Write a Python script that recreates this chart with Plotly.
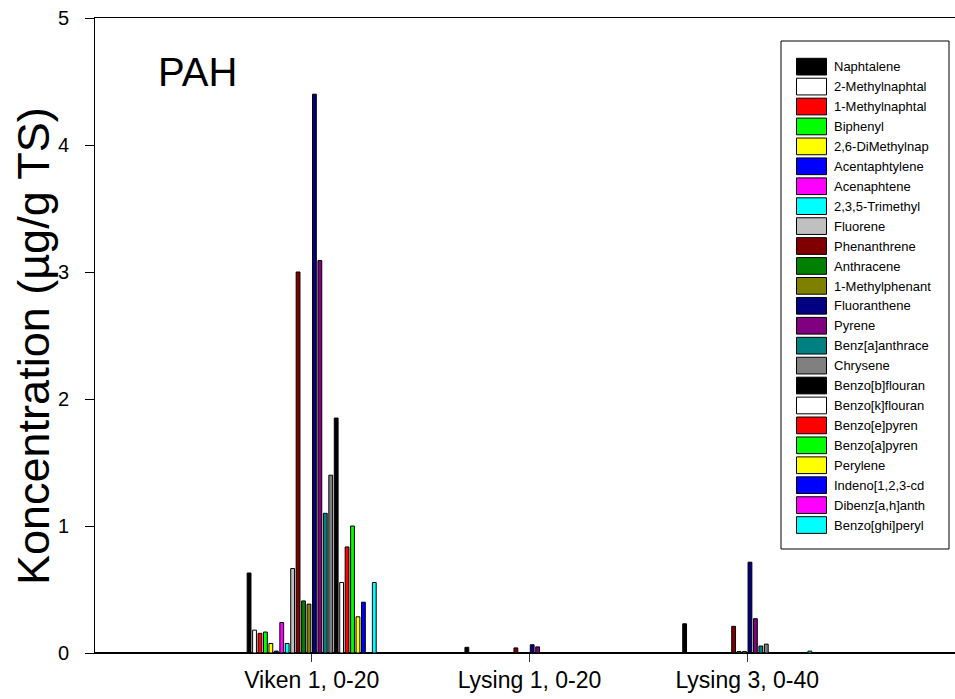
import plotly.graph_objects as go

categories = ["Viken 1, 0-20", "Lysing 1, 0-20", "Lysing 3, 0-40"]

compounds = [
    "Naphtalene", "2-Methylnaphtal", "1-Methylnaphtal", "Biphenyl", "2,6-DiMethylnap",
    "Acentaphtylene", "Acenaphtene", "2,3,5-Trimethyl", "Fluorene", "Phenanthrene",
    "Anthracene", "1-Methylphenant", "Fluoranthene", "Pyrene", "Benz[a]anthrace",
    "Chrysene", "Benzo[b]flouran", "Benzo[k]flouran", "Benzo[e]pyren", "Benzo[a]pyren",
    "Perylene", "Indeno[1,2,3-cd", "Dibenz[a,h]anth", "Benzo[ghi]peryl",
]

colors = [
    "#000000", "#FFFFFF", "#FF0000", "#00FF00", "#FFFF00",
    "#0000FF", "#FF00FF", "#00FFFF", "#C0C0C0", "#800000",
    "#008000", "#808000", "#000080", "#800080", "#008080",
    "#808080", "#000000", "#FFFFFF", "#FF0000", "#00FF00",
    "#FFFF00", "#0000FF", "#FF00FF", "#00FFFF",
]

viken1 = [0.63, 0.18, 0.155, 0.165, 0.075, 0.015, 0.24, 0.075, 0.665, 3.00,
          0.41, 0.385, 4.40, 3.09, 1.10, 1.40, 1.85, 0.555, 0.835, 1.00,
          0.285, 0.40, 0.0, 0.555]
lysing1 = [0.045, 0.0, 0.0, 0.0, 0.0, 0.0, 0.0, 0.0, 0.0, 0.04,
           0.0, 0.0, 0.065, 0.048, 0.0, 0.0, 0.0, 0.0, 0.0, 0.0,
           0.0, 0.0, 0.0, 0.0]
lysing3 = [0.23, 0.0, 0.0, 0.0, 0.0, 0.0, 0.0, 0.0, 0.0, 0.21,
           0.012, 0.012, 0.715, 0.27, 0.055, 0.07, 0.0, 0.0, 0.0, 0.0,
           0.0, 0.0, 0.0, 0.015]

y_ticks = [0, 1, 2, 3, 4, 5]

FONT = "Liberation Sans, Arial, sans-serif"
W, H = 955, 699
ML, MR, MT, MB = 95, 0, 18, 46
PW, PH = W - ML - MR, H - MT - MB


def px_x(px):
    return (px - ML) / PW


def px_y(py):
    return (H - MB - py) / PH


fig = go.Figure()
for i, name in enumerate(compounds):
    fig.add_trace(go.Bar(
        x=categories,
        y=[viken1[i], lysing1[i], lysing3[i]],
        name=name,
        marker=dict(color=colors[i], line=dict(color="#000000", width=1)),
        showlegend=False,
    ))

shapes = []
annotations = []

# manual legend
shapes.append(dict(type="rect", xref="paper", yref="paper",
                   x0=px_x(781), x1=px_x(949), y0=px_y(549), y1=px_y(41),
                   line=dict(color="#000000", width=1), fillcolor="rgba(0,0,0,0)"))
step = 19.93
for i, name in enumerate(compounds):
    top = 58.3 + step * i
    shapes.append(dict(type="rect", xref="paper", yref="paper",
                       x0=px_x(796.5), x1=px_x(826.5), y0=px_y(top + 16.7), y1=px_y(top),
                       line=dict(color="#000000", width=1), fillcolor=colors[i]))
    annotations.append(dict(xref="paper", yref="paper", x=px_x(832), y=px_y(top + 8.5),
                            xanchor="left", yanchor="middle", text=name, showarrow=False,
                            font=dict(family=FONT, size=13, color="#000000")))

annotations.append(dict(xref="paper", yref="paper", x=px_x(156), y=px_y(72),
                        xanchor="left", yanchor="middle", text="PAH", showarrow=False,
                        font=dict(family=FONT, size=40, color="#000000")))
annotations.append(dict(xref="paper", yref="paper", x=px_x(33), y=px_y(346),
                        xanchor="center", yanchor="middle", text="Koncentration (µg/g TS)",
                        textangle=-90, showarrow=False,
                        font=dict(family=FONT, size=45, color="#000000")))

fig.update_layout(
    width=W, height=H,
    margin=dict(l=ML, r=MR, t=MT, b=MB, pad=0),
    paper_bgcolor="white", plot_bgcolor="white",
    barmode="group", bargap=0.4, bargroupgap=0.3,
    font=dict(family=FONT, color="#000000"),
    shapes=shapes, annotations=annotations,
    xaxis=dict(
        type="category", range=[-0.995, 2.954],
        showline=True, linecolor="#000000", linewidth=1, mirror=True,
        ticks="outside", ticklen=8, tickcolor="#333333",
        showgrid=False, zeroline=False,
        tickfont=dict(family=FONT, size=23, color="#000000"),
        ticklabelstandoff=-2,
    ),
    yaxis=dict(
        range=[0, 5], tickvals=y_ticks,
        showline=True, linecolor="#000000", linewidth=1,
        ticks="outside", ticklen=9, tickcolor="#000000",
        showgrid=False, zeroline=True, zerolinecolor="#000000", zerolinewidth=2,
        tickfont=dict(family=FONT, size=20, color="#000000"),
        ticklabelstandoff=12,
    ),
)

fig.write_html("out.html")
